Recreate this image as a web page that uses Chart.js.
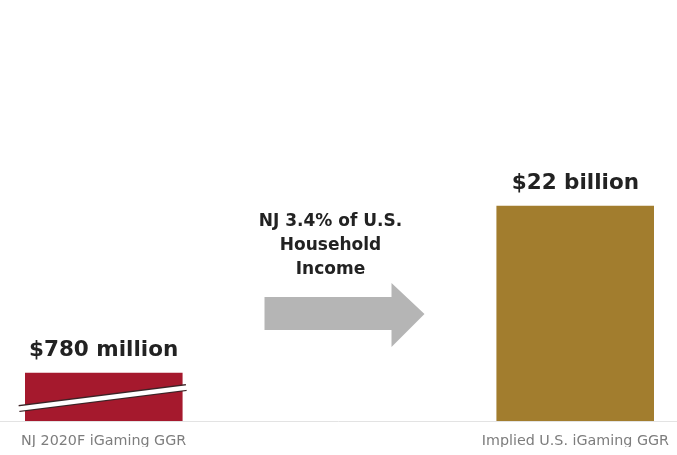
<!DOCTYPE html>
<html>
<head>
<meta charset="utf-8">
<script src="https://cdn.jsdelivr.net/npm/chart.js@4/dist/chart.umd.min.js"></script>
<style>
    body { margin: 0; background: #fff; }
</style>
</head>
<body>
<canvas id="GgrChart" width="677" height="455"></canvas>
<script>
// two slots in the middle are left empty for the arrow
var categories = ['NJ 2020F iGaming GGR', '', '', 'Implied U.S. iGaming GGR'];
var ggrMillions = [780, null, null, 22000];
var brokenBars = [0];
var arrowText = ['NJ 3.4% of U.S.', 'Household', 'Income'];

function FormatGgr(v) {
    if (v >= 1000) return '$' + (v / 1000) + ' billion';
    return '$' + v + ' million';
}

var valueLabels = {
    id: 'valueLabels',
    afterDatasetsDraw: function (chart) {
        var ctx = chart.ctx;
        var meta = chart.getDatasetMeta(0);
        ctx.save();
        ctx.fillStyle = '#222';
        ctx.font = 'bold 21.5px "DejaVu Sans"';
        ctx.textAlign = 'center';
        ctx.textBaseline = 'middle';
        meta.data.forEach(function (bar, i) {
            var v = ggrMillions[i];
            if (v == null) return;
            ctx.fillText(FormatGgr(v), bar.x, bar.y - 23);
        });
        ctx.restore();
    }
};

// white slash across a bar whose height is not to scale
var breakMark = {
    id: 'breakMark',
    afterDatasetsDraw: function (chart) {
        var ctx = chart.ctx;
        var meta = chart.getDatasetMeta(0);
        brokenBars.forEach(function (i) {
            var bar = meta.data[i];
            var h = bar.base - bar.y;
            var x1 = bar.x - bar.width / 2 - 6, y1 = bar.y + h * 0.74;
            var x2 = bar.x + bar.width / 2 + 4, y2 = bar.y + h * 0.30;
            ctx.save();
            ctx.lineCap = 'butt';
            ctx.strokeStyle = '#3b2326';
            ctx.lineWidth = 7;
            ctx.beginPath(); ctx.moveTo(x1, y1); ctx.lineTo(x2, y2); ctx.stroke();
            ctx.strokeStyle = '#fff';
            ctx.lineWidth = 4.5;
            ctx.beginPath(); ctx.moveTo(x1 - 1, y1 + 0.1); ctx.lineTo(x2 + 1, y2 - 0.1); ctx.stroke();
            ctx.restore();
        });
    }
};

// baseline, arrow and its caption
var decorations = {
    id: 'decorations',
    beforeDatasetsDraw: function (chart) {
        var ctx = chart.ctx;
        var area = chart.chartArea;
        ctx.save();
        ctx.strokeStyle = '#e3e3e3';
        ctx.lineWidth = 1;
        ctx.beginPath();
        ctx.moveTo(0, area.bottom + 0.5);
        ctx.lineTo(chart.width, area.bottom + 0.5);
        ctx.stroke();
        ctx.restore();
    },
    afterDraw: function (chart) {
        var ctx = chart.ctx;
        var area = chart.chartArea;
        var cx = (area.left + area.right) / 2;
        var cy = area.bottom - 107;

        ctx.save();
        ctx.fillStyle = '#b5b5b5';
        ctx.beginPath();
        ctx.moveTo(cx - 75, cy - 17);
        ctx.lineTo(cx + 52, cy - 17);
        ctx.lineTo(cx + 52, cy - 31);
        ctx.lineTo(cx + 85, cy);
        ctx.lineTo(cx + 52, cy + 33);
        ctx.lineTo(cx + 52, cy + 16);
        ctx.lineTo(cx - 75, cy + 16);
        ctx.closePath();
        ctx.fill();

        ctx.fillStyle = '#222';
        ctx.font = 'bold 17px "DejaVu Sans"';
        ctx.textAlign = 'center';
        ctx.textBaseline = 'middle';
        arrowText.forEach(function (line, i) {
            ctx.fillText(line, cx - 9, cy - 92 + i * 24);
        });
        ctx.restore();
    }
};

var ctx = document.getElementById('GgrChart').getContext('2d');

var graphic = new Chart(ctx, {
    type: 'bar',
    data: {
        labels: categories,
        datasets: [{
            label: 'iGaming GGR ($ millions)',
            backgroundColor: ['#a5192d', '#a5192d', '#a5192d', '#a27d2e'],
            data: ggrMillions,
            barPercentage: 1,
            categoryPercentage: 1
        }]
    },
    options: {
        responsive: false,
        animation: false,
        layout: {
            padding: { left: 25, right: 23, top: 15, bottom: 8 }
        },
        plugins: {
            legend: { display: false },
            tooltip: { enabled: false }
        },
        scales: {
            x: {
                grid: { display: false, drawTicks: false },
                border: { display: false },
                ticks: {
                    color: '#7d7d7d',
                    font: { family: 'DejaVu Sans', size: 14.3 },
                    padding: 12,
                    autoSkip: false,
                    maxRotation: 0,
                    minRotation: 0
                },
                afterFit: function (scale) {
                    // labels may hang past the plot edges
                    scale.height = 26;
                    scale.paddingLeft = 0;
                    scale.paddingRight = 0;
                }
            },
            y: {
                type: 'logarithmic',
                display: false,
                min: 300,
                max: 1000000
            }
        }
    },
    plugins: [decorations, valueLabels, breakMark]
});
</script>
</body>
</html>
